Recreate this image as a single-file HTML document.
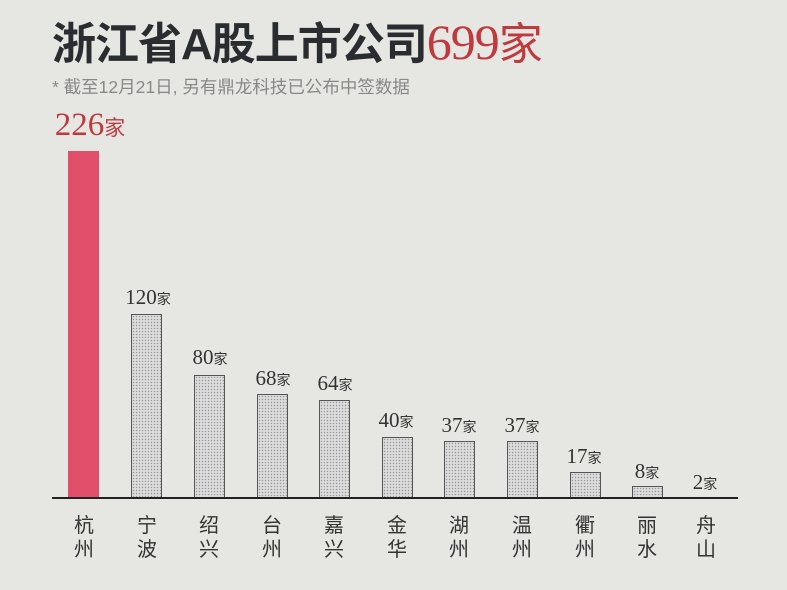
<!DOCTYPE html>
<html><head><meta charset="utf-8"><style>
body{margin:0;width:787px;height:590px;background:#e6e7e3;position:relative;overflow:hidden;font-family:"Liberation Sans","Noto Sans CJK SC",sans-serif}
.t{position:absolute;left:52px;top:8px;font-size:44px;font-weight:bold;color:#2a2d2f;white-space:nowrap;letter-spacing:-1px}
.t span{font-family:"Liberation Serif","Noto Serif CJK SC",serif;font-weight:normal;color:#c0393f;font-size:50px}
.s{position:absolute;left:52px;top:74px;font-size:17.5px;color:#888;white-space:nowrap}
.bar{position:absolute;width:29px;border:1px solid #555;background-color:#ddd;background-image:radial-gradient(#999 0.6px,transparent 0.9px);background-size:3px 3px}
.v{position:absolute;font-family:"Liberation Serif",serif;color:#333;font-size:21px;white-space:nowrap;transform:translateX(-50%)}
.v small{font-family:"Noto Sans CJK SC",sans-serif;font-size:14px}
.c{position:absolute;top:514px;width:30px;text-align:center;font-size:20px;line-height:24px;color:#333;transform:translateX(-50%)}
</style></head><body>
<div class="t">浙江省A股上市公司<span>699</span><span style="font-family:'Noto Sans CJK SC',sans-serif;font-size:44px">家</span></div>
<div class="s">* 截至12月21日, 另有鼎龙科技已公布中签数据</div>
<div style="position:absolute;left:68px;top:151px;width:31px;height:347px;background:#e24f6a"></div>
<div class="v" style="left:90px;top:107px;color:#c0393f;font-size:33px">226<small style="font-size:21px">家</small></div>
<div class="bar" style="left:131px;top:314px;height:183px"></div><div class="v" style="left:148px;top:285px">120<small>家</small></div>
<div class="bar" style="left:194px;top:375px;height:122px"></div><div class="v" style="left:210px;top:345px">80<small>家</small></div>
<div class="bar" style="left:257px;top:394px;height:103px"></div><div class="v" style="left:273px;top:366px">68<small>家</small></div>
<div class="bar" style="left:319px;top:400px;height:97px"></div><div class="v" style="left:335px;top:371px">64<small>家</small></div>
<div class="bar" style="left:382px;top:437px;height:60px"></div><div class="v" style="left:396px;top:408px">40<small>家</small></div>
<div class="bar" style="left:444px;top:441px;height:56px"></div><div class="v" style="left:459px;top:413px">37<small>家</small></div>
<div class="bar" style="left:507px;top:441px;height:56px"></div><div class="v" style="left:522px;top:413px">37<small>家</small></div>
<div class="bar" style="left:570px;top:472px;height:25px"></div><div class="v" style="left:584px;top:444px">17<small>家</small></div>
<div class="bar" style="left:632px;top:486px;height:11px"></div><div class="v" style="left:647px;top:459px">8<small>家</small></div>
<div class="v" style="left:705px;top:470px">2<small>家</small></div>
<div style="position:absolute;left:52px;top:497px;width:686px;height:2px;background:#222"></div>
<div class="c" style="left:84px">杭<br>州</div><div class="c" style="left:147px">宁<br>波</div><div class="c" style="left:209px">绍<br>兴</div><div class="c" style="left:272px">台<br>州</div><div class="c" style="left:334px">嘉<br>兴</div><div class="c" style="left:397px">金<br>华</div><div class="c" style="left:459px">湖<br>州</div><div class="c" style="left:522px">温<br>州</div><div class="c" style="left:585px">衢<br>州</div><div class="c" style="left:647px">丽<br>水</div><div class="c" style="left:706px">舟<br>山</div>
</body></html>
